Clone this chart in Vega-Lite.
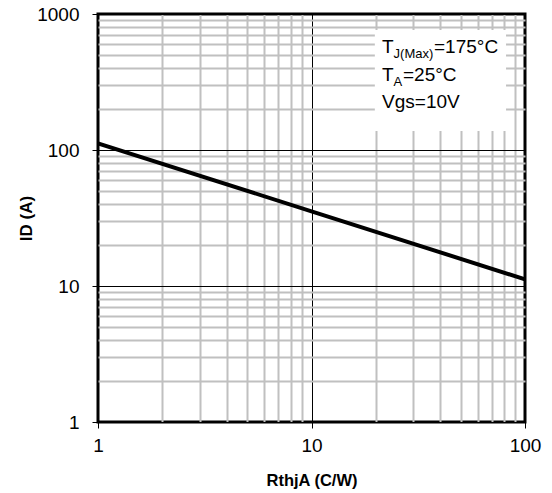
{
  "$schema": "https://vega.github.io/schema/vega-lite/v6.json",
  "autosize": {"type": "none"},
  "width": 427,
  "height": 408,
  "padding": {"left": 98, "top": 14, "right": 27, "bottom": 71},
  "background": "white",
  "config": {
    "font": "Liberation Sans",
    "view": {"stroke": "black", "strokeWidth": 3},
    "axis": {
      "labelFont": "Liberation Sans",
      "labelFontSize": 19,
      "labelColor": "black",
      "titleFont": "Liberation Sans",
      "titleFontSize": 17,
      "titleFontWeight": "bold",
      "titleColor": "black",
      "domain": false,
      "tickColor": "black",
      "tickWidth": 1,
      "tickSize": 6,
      "labelPadding": 8
    }
  },
  "datasets": {
    "curve": [
      {"RthjA": 1, "ID": 112},
      {"RthjA": 10, "ID": 35.4},
      {"RthjA": 100, "ID": 11.2}
    ],
    "box": [
      {"x1": 19.8, "x2": 81.5, "y1": 138, "y2": 763}
    ],
    "labels": [
      {"x": 21.4, "y": 516.6, "t": "T"},
      {"x": 37.48, "y": 516.6, "t": "=175°C"},
      {"x": 21.4, "y": 321.6, "t": "T"},
      {"x": 26.83, "y": 321.6, "t": "=25°C"},
      {"x": 21.4, "y": 203.6, "t": "Vgs=10V"}
    ],
    "subs": [
      {"x": 24.24, "y": 472, "t": "J(Max)"},
      {"x": 24.24, "y": 295.6, "t": "A"}
    ]
  },
  "layer": [
    {
      "data": {"name": "curve"},
      "mark": {"type": "line", "color": "black", "strokeWidth": 4, "clip": true},
      "encoding": {
        "x": {
          "field": "RthjA", "type": "quantitative",
          "scale": {"type": "log", "domain": [1, 100], "nice": false},
          "axis": {
            "title": "RthjA (C/W)",
            "titlePadding": 17,
            "titleFontSize": 16.5,
            "values": [1,2,3,4,5,6,7,8,9,10,20,30,40,50,60,70,80,90,100],
            "labelExpr": "datum.value == 1 || datum.value == 10 || datum.value == 100 ? format(datum.value, 'd') : ''",
            "labelFlush": false,
            "labelOverlap": false,
            "gridColor": {"condition": {"test": "datum.value == 1 || datum.value == 10 || datum.value == 100", "value": "black"}, "value": "#c0c0c0"},
            "gridWidth": {"condition": {"test": "datum.value == 1 || datum.value == 10 || datum.value == 100", "value": 1}, "value": 2},
            "tickOpacity": {"condition": {"test": "datum.value == 1 || datum.value == 10 || datum.value == 100", "value": 1}, "value": 0}
          }
        },
        "y": {
          "field": "ID", "type": "quantitative",
          "scale": {"type": "log", "domain": [1, 1000], "nice": false},
          "axis": {
            "title": "ID (A)",
            "titlePadding": 1,
            "values": [1,2,3,4,5,6,7,8,9,10,20,30,40,50,60,70,80,90,100,200,300,400,500,600,700,800,900,1000],
            "labelExpr": "datum.value == 1 || datum.value == 10 || datum.value == 100 || datum.value == 1000 ? format(datum.value, 'd') : ''",
            "labelFlush": false,
            "labelOverlap": false,
            "labelPadding": 13,
            "gridColor": {"condition": {"test": "datum.value == 1 || datum.value == 10 || datum.value == 100 || datum.value == 1000", "value": "black"}, "value": "#c0c0c0"},
            "gridWidth": {"condition": {"test": "datum.value == 1 || datum.value == 10 || datum.value == 100 || datum.value == 1000", "value": 1}, "value": 2},
            "tickOpacity": {"condition": {"test": "datum.value == 1 || datum.value == 10 || datum.value == 100 || datum.value == 1000", "value": 1}, "value": 0}
          }
        }
      }
    },
    {
      "data": {"name": "box"},
      "mark": {"type": "rect", "fill": "white", "stroke": null},
      "encoding": {
        "x": {"field": "x1", "type": "quantitative"},
        "x2": {"field": "x2"},
        "y": {"field": "y1", "type": "quantitative"},
        "y2": {"field": "y2"}
      }
    },
    {
      "data": {"name": "labels"},
      "mark": {"type": "text", "align": "left", "baseline": "alphabetic", "fontSize": 19, "font": "Liberation Sans", "color": "black"},
      "encoding": {
        "x": {"field": "x", "type": "quantitative"},
        "y": {"field": "y", "type": "quantitative"},
        "text": {"field": "t"}
      }
    },
    {
      "data": {"name": "subs"},
      "mark": {"type": "text", "align": "left", "baseline": "alphabetic", "fontSize": 13, "font": "Liberation Sans", "color": "black"},
      "encoding": {
        "x": {"field": "x", "type": "quantitative"},
        "y": {"field": "y", "type": "quantitative"},
        "text": {"field": "t"}
      }
    }
  ]
}
